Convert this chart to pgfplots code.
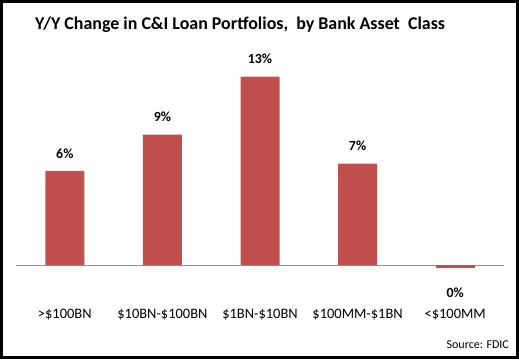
\documentclass[border=0pt]{standalone}
\usepackage{pgfplots}
\pgfplotsset{compat=1.18}
\usepackage{fontspec}
\setmainfont{Carlito}
\definecolor{barred}{HTML}{C0504D}
\begin{document}
\begin{tikzpicture}[x=1bp,y=1bp]
\path (0,0) rectangle (519,359);
\draw[line width=3bp] (1.5,1.5) rectangle (517.5,357.5);
\node[font=\bfseries\fontsize{18}{21}\selectfont, anchor=west, inner sep=0pt] at (35,334) {Y/Y Change in C\&I Loan Portfolios,\ \ by Bank Asset\ \ Class};
\node[font=\fontsize{12}{14}\selectfont, anchor=east, inner sep=0pt] at (509,14) {Source: FDIC};
\begin{axis}[at={(16bp,59bp)}, anchor=south west, scale only axis,
  width=488bp, height=240bp,
  xmin=-0.5, xmax=4.5, ymin=-2.414, ymax=14.138,
  ybar, bar width=39bp, bar shift=0pt,
  axis line style={draw=none},
  ytick=\empty,
  xtick={0,1,2,3,4},
  xticklabels={>\$100BN,\$10BN-\$100BN,\$1BN-\$10BN,\$100MM-\$1BN,<\$100MM},
  xticklabel style={font=\fontsize{14.5}{16}\selectfont, yshift=-6bp},
  major tick length=0pt,
  extra y ticks={0}, extra y tick labels={},
  extra y tick style={grid=major, major grid style={draw=gray!85, line width=0.9pt}},
  nodes near coords, point meta=explicit symbolic,
  clip=false,
]
\addplot[fill=barred, draw=none,
  every node near coord/.append style={font=\bfseries\fontsize{14}{16}\selectfont, black, yshift=9bp}]
  table[meta=lab] {
x y lab
0 6.5 6\%
1 9.0 9\%
2 13.0 13\%
3 7.0 7\%
};
\addplot[fill=barred, draw=none,
  every node near coord/.append style={font=\bfseries\fontsize{14}{16}\selectfont, black, yshift=-33bp}]
  table[meta=lab] {
x y lab
4 -0.2 0\%
};
\end{axis}
\end{tikzpicture}
\end{document}
